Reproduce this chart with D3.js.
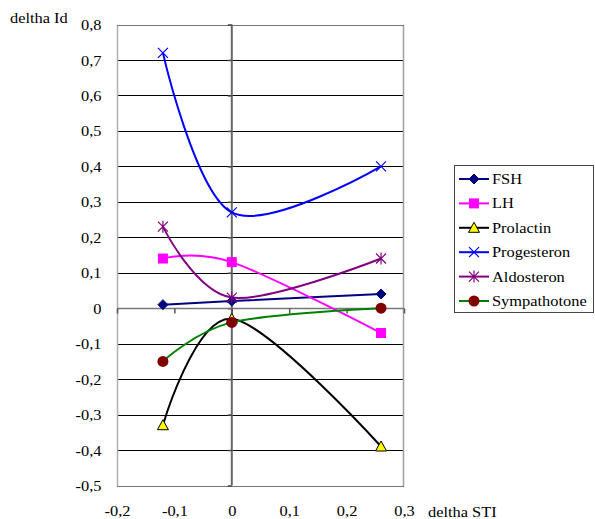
<!DOCTYPE html>
<html>
<head>
<meta charset="utf-8">
<script src="https://cdn.jsdelivr.net/npm/d3@7"></script>
<style>
  html, body { margin: 0; padding: 0; background: #fff; }
  svg { display: block; }
</style>
</head>
<body>
<svg id="chart" width="595" height="519"></svg>
<script>
// x positions (delta STI) shared by all series
const stiValues = [-0.12, 0, 0.26];

// delta Id for each hormone
const fsh          = [0.01, 0.02, 0.04];
const lh           = [0.14, 0.13, -0.07];
const prolactin    = [-0.33, -0.03, -0.39];
const progesteron  = [0.72, 0.27, 0.40];
const aldosteron   = [0.23, 0.03, 0.14];
const sympathotone = [-0.15, -0.04, 0.00];

const seriesNames = ["FSH", "LH", "Prolactin", "Progesteron", "Aldosteron", "Sympathotone"];
const xTicks = [-0.2, -0.1, 0, 0.1, 0.2, 0.3];
const yTicks = [0.8, 0.7, 0.6, 0.5, 0.4, 0.3, 0.2, 0.1, 0, -0.1, -0.2, -0.3, -0.4, -0.5];

const styles = {
  FSH:          { line: "#000080", marker: "diamond",  fill: "#000080", stroke: "#000080" },
  LH:           { line: "#ff00ff", marker: "square",   fill: "#ff00ff", stroke: "#ff00ff" },
  Prolactin:    { line: "#000000", marker: "triangle", fill: "#ffff00", stroke: "#000000" },
  Progesteron:  { line: "#0000ff", marker: "x",        fill: "none",    stroke: "#0000ff" },
  Aldosteron:   { line: "#800080", marker: "star",     fill: "none",    stroke: "#800080" },
  Sympathotone: { line: "#008000", marker: "circle",   fill: "#800000", stroke: "#800000" }
};

const seriesValues = [fsh, lh, prolactin, progesteron, aldosteron, sympathotone];
const series = seriesNames.map((name, i) => ({
  name,
  points: stiValues.map((x, j) => ({ x, y: seriesValues[i][j] }))
}));

const FONT = "'Liberation Serif', 'Times New Roman', Times, serif";
const FSIZE = "14.5px";
const SX = 1.13; // horizontal stretch of the serif lettering

const svg = d3.select("#chart");
const plot = { left: 117, right: 404, top: 24.5, bottom: 485.5 };
const x = d3.scaleLinear().domain([-0.2, 0.3]).range([plot.left, plot.right]);
const y = d3.scaleLinear().domain([-0.5, 0.8]).range([plot.bottom, plot.top]);

const locale = d3.formatLocale({ decimal: ",", thousands: " ", grouping: [3], currency: ["", ""], minus: "-" });
const fmt = d => (Math.abs(d) < 1e-9 ? "0" : locale.format(".1f")(d));

// horizontal gridlines
svg.append("g").selectAll("line").data(yTicks).join("line")
  .attr("x1", plot.left).attr("x2", plot.right)
  .attr("y1", d => Math.round(y(d)) + 0.5).attr("y2", d => Math.round(y(d)) + 0.5)
  .attr("stroke", "#000").attr("stroke-width", 1);

// plot frame
const fr = { l: Math.round(plot.left) + 0.5, r: Math.round(plot.right) - 0.5,
             t: Math.round(plot.top) + 0.5, b: Math.round(plot.bottom) + 0.5 };
svg.append("line").attr("x1", fr.l).attr("x2", fr.r).attr("y1", fr.t).attr("y2", fr.t).attr("stroke", "#777");
svg.append("line").attr("x1", fr.l).attr("x2", fr.r).attr("y1", fr.b).attr("y2", fr.b).attr("stroke", "#777");
svg.append("line").attr("x1", fr.l).attr("x2", fr.l).attr("y1", fr.t).attr("y2", fr.b).attr("stroke", "#b0b0b0").attr("stroke-width", 1.5);
svg.append("line").attr("x1", fr.r).attr("x2", fr.r).attr("y1", fr.t).attr("y2", fr.b).attr("stroke", "#a0a0a0").attr("stroke-width", 1.5);

// axes through zero with ticks
const yAxisG = svg.append("g").attr("transform", `translate(${x(0)},0)`)
  .call(d3.axisLeft(y).tickValues(yTicks).tickSize(4).tickFormat(""));
yAxisG.select(".domain").attr("stroke", "#666").attr("stroke-width", 2).attr("d", `M0,${plot.top}V${plot.bottom}`);
yAxisG.selectAll(".tick line").attr("stroke", "#444").attr("stroke-width", 1.5);

const xAxisG = svg.append("g").attr("transform", `translate(0,${Math.round(y(0)) + 0.5})`)
  .call(d3.axisBottom(x).tickValues(xTicks).tickSize(5).tickFormat(""));
xAxisG.select(".domain").attr("stroke", "#777").attr("stroke-width", 1.5).attr("d", `M${plot.left},0H${plot.right}`);
xAxisG.selectAll(".tick line").attr("stroke", "#555").attr("stroke-width", 1.5);

// tick labels
const yLab = svg.append("g").attr("transform", `translate(${plot.left},0)`)
  .call(d3.axisLeft(y).tickValues(yTicks).tickSize(0).tickPadding(0).tickFormat(fmt));
yLab.select(".domain").remove();
yLab.attr("font-family", null).attr("font-size", null);
yLab.selectAll(".tick text")
  .attr("x", 0).attr("dy", "0.35em")
  .attr("transform", `translate(-15.5,0) scale(${SX},1)`)
  .style("font-family", FONT).style("font-size", FSIZE).attr("fill", "#000");

const xLab = svg.append("g").attr("transform", `translate(0,${plot.bottom})`)
  .call(d3.axisBottom(x).tickValues(xTicks).tickSize(0).tickPadding(0).tickFormat(fmt));
xLab.select(".domain").remove();
xLab.attr("font-family", null).attr("font-size", null);
xLab.selectAll(".tick text")
  .attr("y", 0).attr("dy", "0.35em")
  .attr("transform", `translate(0,25.5) scale(${SX},1)`)
  .style("font-family", FONT).style("font-size", FSIZE).attr("fill", "#000");

// axis titles
function label(txt, px, py, anchor) {
  svg.append("text")
    .attr("transform", `translate(${px},${py}) scale(${SX},1)`)
    .attr("dy", "0.35em").attr("text-anchor", anchor || "start")
    .style("font-family", FONT).style("font-size", FSIZE).attr("fill", "#000")
    .text(txt);
}
label("deltha Id", 10, 18);
label("deltha STI", 428, 512);

// smoothed series lines
const line = d3.line().x(d => x(d.x)).y(d => y(d.y)).curve(d3.curveCardinal.tension(0));
svg.append("g").selectAll("path").data(series).join("path")
  .attr("d", d => line(d.points))
  .attr("fill", "none")
  .attr("stroke", d => styles[d.name].line)
  .attr("stroke-width", 2);

// marker shapes
function drawMarker(g, kind, st) {
  switch (kind) {
    case "diamond":
      g.append("path").attr("d", "M0,-5L5,0L0,5L-5,0Z").attr("fill", st.fill).attr("stroke", st.stroke);
      break;
    case "square":
      g.append("rect").attr("x", -5).attr("y", -5).attr("width", 10).attr("height", 10).attr("fill", st.fill);
      break;
    case "triangle":
      g.append("path").attr("d", "M0,-5.5L5.5,4.5L-5.5,4.5Z").attr("fill", st.fill).attr("stroke", st.stroke).attr("stroke-width", 1);
      break;
    case "x":
      g.append("path").attr("d", "M-5,-5L5,5M-5,5L5,-5").attr("stroke", st.stroke).attr("stroke-width", 1.2).attr("fill", "none");
      break;
    case "star":
      g.append("path").attr("d", "M-5,-5L5,5M-5,5L5,-5M0,-6V6").attr("stroke", st.stroke).attr("stroke-width", 1.2).attr("fill", "none");
      break;
    case "circle":
      g.append("circle").attr("r", 5.5).attr("fill", st.fill);
      break;
  }
}

const markersG = svg.append("g");
series.forEach(s => {
  const st = styles[s.name];
  s.points.forEach(p => {
    const g = markersG.append("g").attr("transform", `translate(${x(p.x)},${y(p.y)})`);
    drawMarker(g, st.marker, st);
  });
});

// legend
const legend = svg.append("g");
legend.append("rect").attr("x", 454.5).attr("y", 165.5).attr("width", 139).attr("height", 147)
  .attr("fill", "#fff").attr("stroke", "#444").attr("stroke-width", 1);
seriesNames.forEach((name, i) => {
  const st = styles[name];
  const cy = 179 + i * 24.4;
  legend.append("line").attr("x1", 459).attr("x2", 489).attr("y1", cy).attr("y2", cy)
    .attr("stroke", st.line).attr("stroke-width", 2);
  drawMarker(legend.append("g").attr("transform", `translate(474,${cy})`), st.marker, st);
  legend.append("text")
    .attr("transform", `translate(492,${cy}) scale(${SX},1)`)
    .attr("dy", "0.35em")
    .style("font-family", FONT).style("font-size", FSIZE).attr("fill", "#000")
    .text(name);
});
</script>
</body>
</html>
